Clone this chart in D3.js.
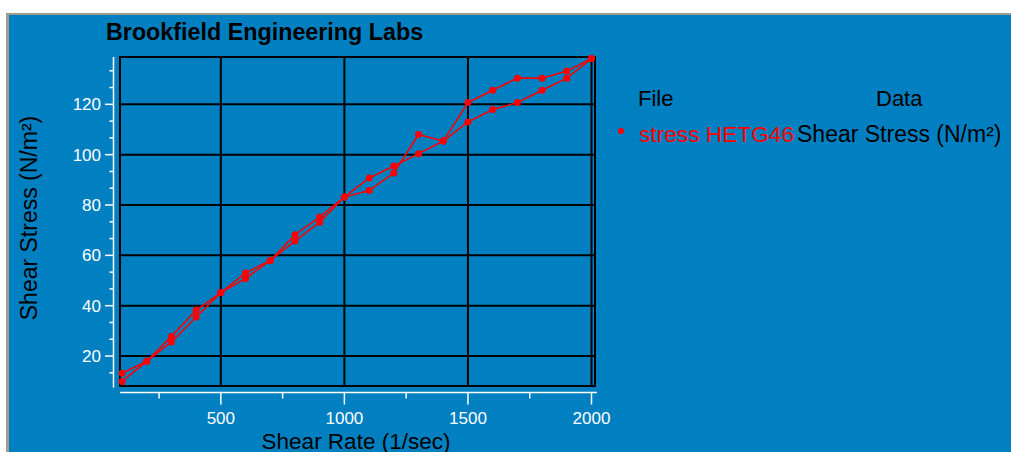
<!DOCTYPE html>
<html>
<head>
<meta charset="utf-8">
<script src="https://cdn.jsdelivr.net/npm/d3@7"></script>
<style>
  html, body { margin: 0; padding: 0; background: #ffffff; }
  svg { display: block; }
  text { font-family: "Liberation Sans", Arial, sans-serif; }
</style>
</head>
<body>
<svg id="chart" width="1011" height="452"></svg>
<script>
// Shear rate steps (1/sec)
const shearRate = [100, 200, 300, 400, 500, 600, 700, 800, 900, 1000,
                   1100, 1200, 1300, 1400, 1500, 1600, 1700, 1800, 1900, 2000];
// Shear stress (N/m²), ramp up
const stressUp = [9.9, 17.9, 25.6, 35.5, 45.2, 50.8, 58.0, 65.7, 73.2, 83.2,
                  85.8, 92.7, 108.0, 105.4, 120.7, 125.6, 130.4, 130.4, 133.2, 138.2];
// Shear stress (N/m²), ramp down (listed by ascending shear rate)
const stressDown = [13.2, 17.9, 27.8, 38.2, 45.2, 53.0, 58.0, 68.2, 75.2, 83.2,
                    90.7, 95.5, 100.4, 105.4, 113.0, 117.9, 120.7, 125.6, 130.4, 138.2];

const xTicks = [500, 1000, 1500, 2000];
const xMinorTicks = [250, 750, 1250, 1750];
const yTicks = [20, 40, 60, 80, 100, 120];
const yMinorTicks = [13.33, 26.67, 33.33, 46.67, 53.33, 66.67, 73.33, 86.67, 93.33,
                     106.67, 113.33, 126.67, 133.33];

const titleText = "Brookfield Engineering Labs";
const xTitle = "Shear Rate (1/sec)";
const yTitle = "Shear Stress (N/m²)";
const legendHeaders = ["File", "Data"];
const legendFile = "stress HETG46";
const legendData = "Shear Stress (N/m²)";

const BLUE = "#0080c0";
const RED = "#ff0000";

const svg = d3.select("#chart");

// panel background with grey edge
svg.append("rect").attr("x", 6).attr("y", 13).attr("width", 1011).attr("height", 452)
  .attr("fill", "#a19c90");
svg.append("rect").attr("x", 9).attr("y", 15).attr("width", 1011).attr("height", 452)
  .attr("fill", BLUE);

// plot frame
const frame = { left: 120, right: 595, top: 57, bottom: 386 };

const x = d3.scaleLinear().domain([100, 2000]).range([122, 591.5]);
const y = d3.scaleLinear().domain([8.1, 138.8]).range([frame.bottom, frame.top]);

const plot = svg.append("g");

// grid
plot.selectAll("line.vgrid").data(xTicks).join("line")
  .attr("class", "vgrid")
  .attr("x1", d => x(d)).attr("x2", d => x(d))
  .attr("y1", frame.top).attr("y2", frame.bottom)
  .attr("stroke", "#000").attr("stroke-width", 2);
plot.selectAll("line.hgrid").data(yTicks).join("line")
  .attr("class", "hgrid")
  .attr("x1", frame.left).attr("x2", frame.right)
  .attr("y1", d => y(d)).attr("y2", d => y(d))
  .attr("stroke", "#000").attr("stroke-width", 2);
plot.append("rect")
  .attr("x", frame.left).attr("y", frame.top)
  .attr("width", frame.right - frame.left).attr("height", frame.bottom - frame.top)
  .attr("fill", "none").attr("stroke", "#000").attr("stroke-width", 2);

// y axis (white, ticks outward)
const yAxisX = 113.5;
const yAxis = svg.append("g").attr("stroke", "#fff").attr("stroke-width", 1.5);
yAxis.append("line").attr("x1", yAxisX).attr("x2", yAxisX)
  .attr("y1", frame.top).attr("y2", frame.bottom + 1.5);
yAxis.selectAll("line.maj").data(yTicks).join("line").attr("class", "maj")
  .attr("x1", yAxisX - 8.5).attr("x2", yAxisX)
  .attr("y1", d => y(d)).attr("y2", d => y(d));
yAxis.selectAll("line.min").data(yMinorTicks).join("line").attr("class", "min")
  .attr("x1", yAxisX - 4).attr("x2", yAxisX)
  .attr("y1", d => y(d)).attr("y2", d => y(d));
svg.selectAll("text.ytick").data(yTicks).join("text").attr("class", "ytick")
  .attr("x", 101).attr("y", d => y(d)).attr("dy", "0.36em")
  .attr("text-anchor", "end").attr("fill", "#fff").attr("font-size", 17)
  .text(d => d);

// x axis (white, ticks downward)
const xAxisY = 392.5;
const xAxis = svg.append("g").attr("stroke", "#fff").attr("stroke-width", 1.5);
xAxis.append("line").attr("x1", frame.left).attr("x2", frame.right + 2)
  .attr("y1", xAxisY).attr("y2", xAxisY);
xAxis.selectAll("line.maj").data(xTicks).join("line").attr("class", "maj")
  .attr("x1", d => x(d)).attr("x2", d => x(d))
  .attr("y1", xAxisY).attr("y2", xAxisY + 12);
xAxis.selectAll("line.min").data(xMinorTicks).join("line").attr("class", "min")
  .attr("x1", d => x(d)).attr("x2", d => x(d))
  .attr("y1", xAxisY).attr("y2", xAxisY + 6);
svg.selectAll("text.xtick").data(xTicks).join("text").attr("class", "xtick")
  .attr("x", d => x(d)).attr("y", 424)
  .attr("text-anchor", "middle").attr("fill", "#fff").attr("font-size", 17)
  .text(d => d);

// titles
svg.append("text").attr("x", 106).attr("y", 39.5)
  .attr("font-size", 23.3).attr("font-weight", "bold").attr("fill", "#000")
  .text(titleText);
svg.append("text").attr("x", 356).attr("y", 449)
  .attr("text-anchor", "middle").attr("font-size", 22.5).attr("fill", "#000")
  .text(xTitle);
svg.append("text")
  .attr("transform", "translate(37,218) rotate(-90)")
  .attr("text-anchor", "middle").attr("font-size", 23).attr("fill", "#000")
  .text(yTitle);

// data lines and markers
const line = d3.line().x(d => x(d[0])).y(d => y(d[1]));
const upPts = d3.zip(shearRate, stressUp);
const downPts = d3.zip(shearRate, stressDown).reverse();
[upPts, downPts].forEach(pts => {
  svg.append("path").datum(pts).attr("d", line)
    .attr("fill", "none").attr("stroke", RED).attr("stroke-width", 1.6)
    .attr("stroke-linejoin", "round");
});
svg.selectAll("circle.pt").data(upPts.concat(downPts)).join("circle").attr("class", "pt")
  .attr("cx", d => x(d[0])).attr("cy", d => y(d[1])).attr("r", 3.5)
  .attr("fill", RED);

// legend
svg.append("text").attr("x", 638).attr("y", 106).attr("font-size", 22).attr("fill", "#000")
  .text(legendHeaders[0]);
svg.append("text").attr("x", 876).attr("y", 106).attr("font-size", 22).attr("fill", "#000")
  .text(legendHeaders[1]);
svg.append("circle").attr("cx", 621).attr("cy", 131).attr("r", 3).attr("fill", RED);
svg.append("text").attr("x", 639).attr("y", 141.5).attr("font-size", 22.7).attr("fill", RED)
  .text(legendFile);
svg.append("text").attr("x", 797).attr("y", 141.5).attr("font-size", 23).attr("fill", "#000")
  .text(legendData);
</script>
</body>
</html>
